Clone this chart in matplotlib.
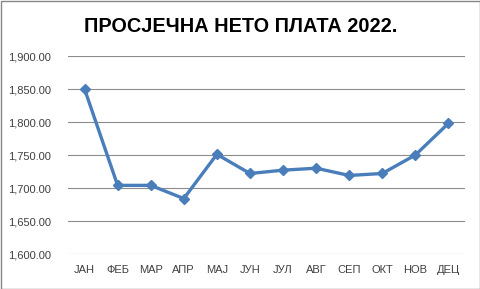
import matplotlib
matplotlib.use("Agg")
import matplotlib.pyplot as plt
from matplotlib.patches import Rectangle

months = ["ЈАН", "ФЕБ", "МАР", "АПР", "МАЈ", "ЈУН", "ЈУЛ", "АВГ", "СЕП", "ОКТ", "НОВ", "ДЕЦ"]
salary = [1850, 1704, 1704, 1684, 1751, 1722, 1727, 1730, 1719, 1722, 1750, 1798]
yticks = [1600, 1650, 1700, 1750, 1800, 1850, 1900]

plt.rcParams["font.family"] = ["Liberation Sans", "DejaVu Sans"]
LINE = "#4A7EBB"; GRID = "#8C8C8C"; TXT = "#404040"

fig = plt.figure(figsize=(4.81, 2.89), dpi=100)
ax = fig.add_axes([68/481, 1-254/289, 397/481, 198/289])

x = list(range(len(months)))
ax.plot(x, salary, color=LINE, lw=2.4, marker="D", ms=5.5, mec=LINE, mfc=LINE, zorder=3,
        clip_on=False)
ax.set_xlim(-0.5, len(months)-0.5)
ax.set_ylim(1600, 1900)
ax.set_yticks(yticks)
ax.set_yticklabels([f"{v:,.2f}" for v in yticks])
ax.set_xticks(x)
ax.set_xticklabels(months)
ax.tick_params(length=0, labelsize=8, labelcolor=TXT, pad=12)
ax.tick_params(axis="x", pad=8)
ax.grid(axis="y", color=GRID, lw=0.8)
ax.set_axisbelow(True)
for s in ax.spines.values():
    s.set_visible(False)

fig.text(0.5, 1-27/289, "ПРОСЈЕЧНА НЕТО ПЛАТА 2022.", ha="center", va="center",
         fontsize=14.3, fontweight="bold", color="black")
fig.patches.append(Rectangle((0.5/481, 0.5/289), 1-1/481, 1-1/289, transform=fig.transFigure,
                             fill=False, ec="#868686", lw=1))

fig.savefig("out.png", dpi=100, facecolor="white")
